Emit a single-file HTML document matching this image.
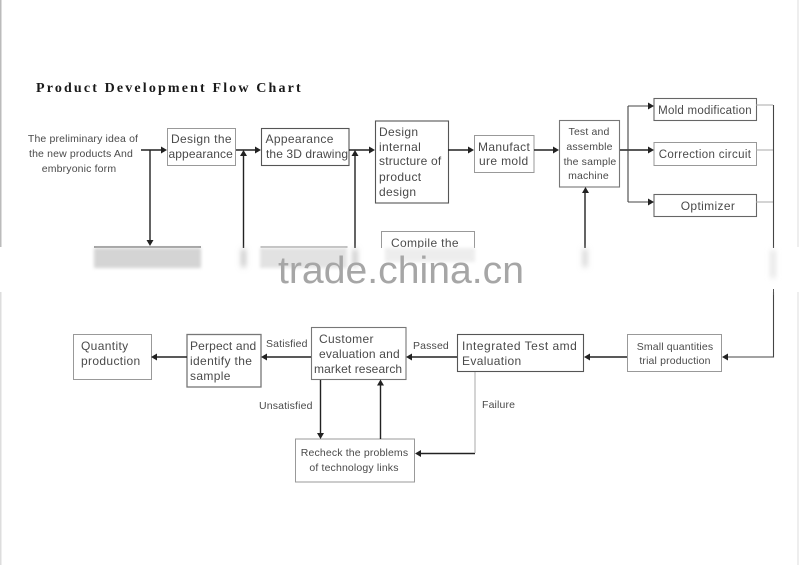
<!DOCTYPE html>
<html><head><meta charset="utf-8"><style>
html,body{margin:0;padding:0;background:#fff}
svg{display:block}
text{font-family:"Liberation Sans",sans-serif;fill:#4a4a4a;font-size:12px;letter-spacing:.35px}
.c{text-anchor:middle}
.m{font-size:10.5px;letter-spacing:.15px}
.b{fill:#fff;stroke:#999;stroke-width:1}
.d{fill:#fff;stroke:#555;stroke-width:1.1}
.l{stroke:#222;stroke-width:1.4;fill:none}
.t{stroke:#aaa;stroke-width:1;fill:none}
.a{fill:#222;stroke:none}
</style></head><body>
<svg width="800" height="565" viewBox="0 0 800 565" xmlns="http://www.w3.org/2000/svg">
<defs>
<filter id="f" x="-20%" y="-30%" width="140%" height="160%"><feGaussianBlur stdDeviation="1.5"/></filter>
<filter id="g" x="-400%" y="-40%" width="900%" height="180%"><feGaussianBlur stdDeviation="3"/></filter>
</defs>
<rect width="800" height="565" fill="#fff"/>
<rect x="0" y="0" width="1.5" height="247" fill="#bbb"/>
<rect x="797.5" y="0" width="1" height="247" fill="#ddd"/>
<rect x="0" y="290" width="1.5" height="275" fill="#ddd"/>
<rect x="797.5" y="290" width="1" height="275" fill="#ddd"/>

<text x="36" y="92" style="font-family:'Liberation Serif',serif;font-weight:bold;font-size:14px;letter-spacing:2.15px;fill:#1a1a1a">Product Development Flow Chart</text>

<text class="c m" x="83" y="142">The preliminary idea of</text>
<text class="c m" x="81" y="157">the new products And</text>
<text class="c m" x="79" y="172">embryonic form</text>

<rect class="b" x="167.5" y="128.5" width="68" height="37"/>
<text x="171" y="143">Design the</text><text x="168.500" y="158" style="letter-spacing:.1px">appearance</text>
<rect class="d" x="261.5" y="128.5" width="87.5" height="37"/>
<text x="265.5" y="143">Appearance</text><text x="266" y="158" style="letter-spacing:.1px">the 3D drawing</text>
<rect class="d" x="375.5" y="121" width="73" height="82"/>
<text x="379" y="136">Design</text><text x="379" y="151">internal</text><text x="379" y="165" style="letter-spacing:.2px">structure of</text><text x="379" y="181">product</text><text x="379" y="196">design</text>
<rect class="b" x="474.5" y="135.5" width="59.5" height="37"/>
<text x="478" y="151">Manufact</text><text x="479" y="165">ure mold</text>
<rect class="d" x="559.5" y="120.5" width="60" height="66.5" style="stroke:#777"/>
<text class="c m" x="589" y="135">Test and</text><text class="c m" x="589.5" y="150">assemble</text><text class="c m" x="590" y="165">the sample</text><text class="c m" x="588.5" y="179">machine</text>
<rect class="d" x="654" y="98.5" width="102.5" height="22" style="stroke:#666"/>
<text class="c" x="705" y="114" style="font-size:11.5px;letter-spacing:.25px">Mold modification</text>
<rect class="b" x="654" y="142.5" width="102.5" height="23"/>
<text class="c" x="705" y="158" style="font-size:11.5px">Correction circuit</text>
<rect class="d" x="654" y="194.5" width="102.5" height="22" style="stroke:#666"/>
<text class="c" x="708" y="210">Optimizer</text>

<rect x="381.5" y="231.5" width="93" height="40" fill="#fff" stroke="#999"/>
<text x="391" y="247">Compile the</text>

<!-- upper connectors -->
<path class="l" d="M141 150H162M150 150V241M236 150H256M243.500 155V248M349 150H370M355 155V248M448 150H469M534 150H554M585 192V248M620 150H649"/>
<path class="l" style="stroke:#444;stroke-width:1.100" d="M628 106V202M628 106H649M628 202H649"/>
<path class="t" d="M756 105H773M756 150H773M756 202H773"/>
<path class="l" d="M773.500 105V357H727" style="stroke:#444;stroke-width:1.100"/>
<g class="a">
<path d="M167 150l-6-3.500v7zM261 150l-6-3.500v7zM375 150l-6-3.500v7zM474 150l-6-3.500v7zM559 150l-6-3.500v7zM654 150l-6-3.500v7zM654 106l-6-3.500v7zM654 202l-6-3.500v7z"/>
<path d="M150 246l-3.500-6h7zM243.500 150l-3.500 6h7zM355 150l-3.500 6h7zM585.500 187l-3.500 6h7z"/>
</g>

<!-- fade band -->
<rect x="94" y="246.500" width="107" height="1" fill="#333"/>
<rect x="260.500" y="246.500" width="87" height="1" fill="#777"/>
<rect x="0" y="248" width="800" height="44" fill="#fff"/>
<rect x="94" y="248" width="107" height="20" fill="#d4d4d4" filter="url(#f)"/>
<rect x="260" y="248" width="87" height="20" fill="#e2e2e2" filter="url(#f)"/>
<rect x="241.500" y="249" width="4" height="18" fill="#bbb" filter="url(#g)"/>
<rect x="353" y="249" width="4" height="18" fill="#bbb" filter="url(#g)"/>
<rect x="583" y="249" width="4" height="18" fill="#ccc" filter="url(#g)"/>
<rect x="385" y="248" width="90" height="14" fill="#e2e2e2" filter="url(#f)" opacity=".6"/>
<rect x="771" y="250" width="4" height="28" fill="#ddd" filter="url(#g)"/>
<rect x="773" y="289" width="1" height="6" fill="#555"/>
<text x="278" y="283" textLength="246" lengthAdjust="spacingAndGlyphs" style="font-size:38px;letter-spacing:0;fill:#a6a6a6">trade.china.cn</text>

<!-- lower boxes -->
<rect class="b" x="73.500" y="334.500" width="78" height="45"/>
<text x="81" y="350">Quantity</text><text x="81" y="365">production</text>
<rect class="d" x="187" y="334.500" width="74" height="52.500" style="stroke:#777;stroke-width:1.300"/>
<text x="190" y="350" style="letter-spacing:.15px">Perpect and</text><text x="190" y="365">identify the</text><text x="190" y="380">sample</text>
<rect class="d" x="311.500" y="327.500" width="94.500" height="52" style="stroke:#777"/>
<text x="319" y="343">Customer</text><text x="319" y="358" style="letter-spacing:.2px">evaluation and</text><text x="314" y="373" style="letter-spacing:.1px">market research</text>
<rect class="b" x="295.500" y="439" width="119" height="43"/>
<text class="c m" x="354.500" y="456">Recheck the problems</text><text class="c m" x="354" y="471">of technology links</text>
<rect class="d" x="457.500" y="334.500" width="126" height="37"/>
<text x="462" y="350" style="letter-spacing:.5px">Integrated Test amd</text><text x="462" y="365">Evaluation</text>
<rect class="b" x="627.500" y="334.500" width="94" height="37"/>
<text class="c m" x="675" y="350">Small quantities</text><text class="c m" x="675" y="364">trial production</text>

<!-- lower connectors -->
<path class="l" d="M187 357H156M311 357H266M457 357H411M627 357H589M320.500 380V434M380.500 439V385M475 453.500H419"/>
<path class="t" d="M475 372V453"/>
<g class="a">
<path d="M151 357l6-3.500v7zM261 357l6-3.500v7zM406 357l6-3.500v7zM584 357l6-3.500v7zM722 357l6-3.500v7zM415 453.500l6-3.500v7z"/>
<path d="M320.500 439l-3.500-6h7zM380.500 379.500l-3.500 6h7z"/>
</g>

<text class="m" x="266" y="347">Satisfied</text>
<text class="m" x="413" y="349">Passed</text>
<text class="m" x="259" y="409">Unsatisfied</text>
<text class="m" x="482" y="408">Failure</text>
</svg>
</body></html>
